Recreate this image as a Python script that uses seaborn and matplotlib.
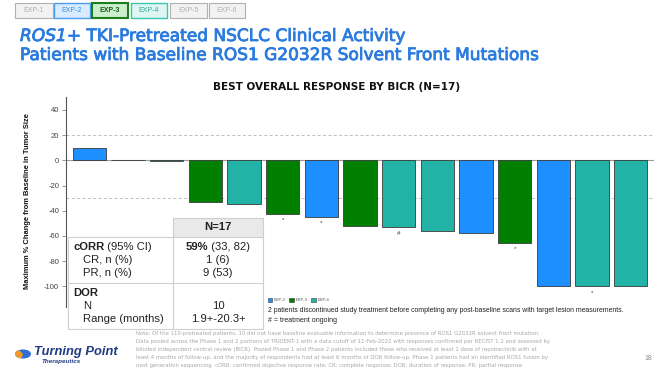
import matplotlib
matplotlib.use("Agg")
import matplotlib.pyplot as plt
import matplotlib.patches as mpatches
import matplotlib.patheffects as pe
import seaborn as sns
import pandas as pd

# ---------------- data ----------------
patients = [f"P{i}" for i in range(1, 16)]
values = [9.5, 0.5, -0.3, -33, -34.5, -42.5, -45, -52, -53, -56, -57.5, -65.5, -100, -100, -100]
cohorts = ["EXP-2", "EXP-2", "EXP-4", "EXP-3", "EXP-4", "EXP-3", "EXP-2", "EXP-3",
           "EXP-4", "EXP-4", "EXP-2", "EXP-3", "EXP-2", "EXP-4", "EXP-4"]
marks = ["", "", "", "", "", "*", "*", "", "#", "", "", "*", "", "*", ""]
cohort_levels = ["EXP-2", "EXP-3", "EXP-4"]
cohort_colors = {"EXP-2": "#1E8FFF", "EXP-3": "#007F00", "EXP-4": "#22B2A6"}
yticks = [40, 20, 0, -20, -40, -60, -80, -100]
ref_lines = [20, -30]

table_rows_left = ["cORR", "CR, n (%)", "PR, n (%)", "DOR", "N", "Range (months)"]
table_rows_right = ["59%", "1 (6)", "9 (53)", "", "10", "1.9+-20.3+"]

W, H = 660, 375
fig = plt.figure(figsize=(6.6, 3.75), dpi=100)
sns.set_style("white")
plt.rcParams["font.family"] = ["DejaVu Sans"]

def fx(x):
    return x / W

def fy(y):
    return 1 - y / H

renderer = fig.canvas.get_renderer()

def fit_text(x, y, s, width_px, base=10, rotation=0, **kw):
    t = fig.text(fx(x), fy(y), s, fontsize=base, **kw)
    w = t.get_window_extent(renderer).width
    t.set_fontsize(base * width_px / w)
    t.set_rotation(rotation)
    return t

def text_after(t, s, gap=0, **kw):
    bb = t.get_window_extent(renderer)
    x = bb.x1 + gap
    return fig.text(x / W, t.get_position()[1], s, **kw)

# ---------------- axes ----------------
ax = fig.add_axes([fx(66), fy(306.5), fx(654 - 66), (306.5 - 97.3) / H])
df = pd.DataFrame({"patient": patients, "value": values, "cohort": cohorts})
sns.barplot(data=df, x="patient", y="value", hue="cohort", order=patients,
            hue_order=cohort_levels, palette=cohort_colors, dodge=False, saturation=1,
            width=0.86, edgecolor="#3a3a3a", linewidth=0.6, legend=False, ax=ax, zorder=3)
ax.set_xlim(-0.6, 14.6)
ax.set_ylim(-116, 50)
for r in ref_lines:
    ax.axhline(r, color="#bdbdbd", lw=0.7, ls=(0, (3, 2.5)), zorder=1)
ax.axhline(0, color="#9a9a9a", lw=0.8, zorder=2)
ax.set_yticks(yticks)
ax.set_yticklabels([str(v) for v in yticks], color="#444444", fontsize=5.5,
                   family="Liberation Sans")
ax.tick_params(axis="y", length=3, width=0.6, color="#888888", pad=2, left=True)
ax.tick_params(axis="x", bottom=False, labelbottom=False)
ax.set_xlabel("")
ax.set_ylabel("")
for s in ["top", "right", "bottom"]:
    ax.spines[s].set_visible(False)
ax.spines["left"].set_color("#555555")
ax.spines["left"].set_linewidth(0.8)

for i, (v, m) in enumerate(zip(values, marks)):
    if m:
        ax.annotate(m, (i, v), xytext=(0, -2.5), textcoords="offset points",
                    ha="center", va="top", fontsize=4.5, color="#333333",
                    family="Liberation Sans")

# y label
fit_text(28, 201, "Maximum % Change from Baseline in Tumor Size", 178, base=6,
         rotation=90, ha="center", va="center", fontweight="bold",
         family="Liberation Sans", color="#111111")

# ---------------- header tabs ----------------
tabs = [("EXP-1", 15, 53, "#f2f2f2", "#b0b0b0", "#b0b0b0", 0.8, "normal"),
        ("EXP-2", 54, 90, "#d8ebff", "#4a9df0", "#3a8ee6", 1.0, "normal"),
        ("EXP-3", 92, 128, "#cdeecd", "#1b7f1b", "#155e15", 1.5, "bold"),
        ("EXP-4", 131, 167, "#ddf6f1", "#3cc4b2", "#2aa898", 1.0, "normal"),
        ("EXP-5", 170, 207, "#f2f2f2", "#b0b0b0", "#b0b0b0", 0.8, "normal"),
        ("EXP-6", 209, 245, "#f2f2f2", "#b0b0b0", "#b0b0b0", 0.8, "normal")]
for lab, x0, x1, fc, ec, tc, lw, fw in tabs:
    fig.patches.append(mpatches.Rectangle((fx(x0), fy(18)), fx(x1 - x0), 15 / H,
                                          transform=fig.transFigure, fc=fc, ec=ec, lw=lw))
    fig.text(fx((x0 + x1) / 2), fy(10.5), lab, ha="center", va="center",
             fontsize=5, color=tc, fontweight=fw, family="Liberation Sans")

# ---------------- titles ----------------
blue = "#2B7BDF"
thick = [pe.withStroke(linewidth=0.6, foreground=blue)]
t2 = fit_text(20, 55, "Patients with Baseline ROS1 G2032R Solvent Front Mutations", 520,
              base=14, va="center", color=blue, family="DejaVu Sans")
t2.set_path_effects(thick)
fs = t2.get_fontsize()
t1a = fig.text(fx(20), fy(36), "ROS1", fontsize=fs, va="center", color=blue,
               style="italic", family="DejaVu Sans", path_effects=thick)
text_after(t1a, "+ TKI-Pretreated NSCLC Clinical Activity", fontsize=fs, va="center",
           color=blue, family="DejaVu Sans", path_effects=thick)
fit_text(213, 87, "BEST OVERALL RESPONSE BY BICR (N=17)", 246, base=9, va="center",
         fontweight="bold", color="#111111", family="DejaVu Sans")

# ---------------- table ----------------
grid = "#cfcfcf"
tx0, tx1, txm = 68, 263, 173
ty0, ty_h, ty_mid, ty1 = 218, 237, 283, 329
fig.patches.append(mpatches.Rectangle((fx(tx0), fy(ty1)), fx(tx1 - tx0), (ty1 - ty0) / H,
                                      transform=fig.transFigure, fc="white", ec="none", zorder=5))
fig.patches.append(mpatches.Rectangle((fx(txm), fy(ty_h)), fx(tx1 - txm), (ty_h - ty0) / H,
                                      transform=fig.transFigure, fc="#e9e9e9", ec="none", zorder=5))
def hline(y, x0, x1):
    fig.lines.append(plt.Line2D([fx(x0), fx(x1)], [fy(y), fy(y)], transform=fig.transFigure,
                                color=grid, lw=0.8, zorder=6))
def vline(x, y0, y1):
    fig.lines.append(plt.Line2D([fx(x), fx(x)], [fy(y0), fy(y1)], transform=fig.transFigure,
                                color=grid, lw=0.8, zorder=6))
hline(ty0, txm, tx1)
hline(ty_h, tx0, tx1)
hline(ty_mid, tx0, tx1)
hline(ty1, tx0, tx1)
vline(tx0, ty_h, ty1)
vline(txm, ty0, ty1)
vline(tx1, ty0, ty1)

tfs = 8.1
tc = "#222222"
tkw = dict(fontsize=tfs, color=tc, family="Liberation Sans", va="center", zorder=7)
fig.text(fx(218), fy(227.5), "N=17", ha="center", fontweight="bold", **tkw)
a = fig.text(fx(73), fy(247), table_rows_left[0], fontweight="bold", **tkw)
text_after(a, " (95% CI)", **tkw)
fig.text(fx(83), fy(260), table_rows_left[1], **tkw)
fig.text(fx(83), fy(273), table_rows_left[2], **tkw)
fig.text(fx(73), fy(293), table_rows_left[3], fontweight="bold", **tkw)
fig.text(fx(83), fy(306), table_rows_left[4], **tkw)
fig.text(fx(83), fy(319), table_rows_left[5], **tkw)
# right column
b1 = fig.text(0, fy(247), table_rows_right[0], fontweight="bold", **tkw)
b2 = fig.text(0, fy(247), " (33, 82)", **tkw)
wtot = b1.get_window_extent(renderer).width + b2.get_window_extent(renderer).width
b1.set_x(fx(218 - wtot / 2))
b2.set_x(fx(218 - wtot / 2 + b1.get_window_extent(renderer).width))
fig.text(fx(218), fy(260), table_rows_right[1], ha="center", **tkw)
fig.text(fx(218), fy(273), table_rows_right[2], ha="center", **tkw)
fig.text(fx(218), fy(306), table_rows_right[4], ha="center", **tkw)
fig.text(fx(218), fy(319), table_rows_right[5], ha="center", **tkw)

# ---------------- legend ----------------
handles = [mpatches.Patch(fc=cohort_colors[c], ec="#3a3a3a", lw=0.4, label=c) for c in cohort_levels]
fig.legend(handles=handles, loc="center left", bbox_to_anchor=(fx(264), fy(300)), ncol=3,
           frameon=False, fontsize=3, handlelength=1.1, handleheight=1.1,
           handletextpad=0.4, columnspacing=0.8, labelcolor="#555555")

fit_text(268, 311, "2 patients discontinued study treatment before completing any post-baseline scans with target lesion measurements.",
         364, base=5, va="center", color="#222222", family="Liberation Sans")
fit_text(268, 321, "# = treatment ongoing", 70, base=5, va="center", color="#222222",
         family="Liberation Sans")

# ---------------- footnote ----------------
notes = [
    "Note: Of the 110-pretreated patients, 10 did not have baseline evaluable information to determine presence of ROS1 G2032R solvent front mutation.",
    "Data pooled across the Phase 1 and 2 portions of TRIDENT-1 with a data cutoff of 11-Feb-2022 with responses confirmed per RECIST 1.1 and assessed by",
    "blinded independent central review (BICR). Pooled Phase 1 and Phase 2 patients included those who received at least 1 dose of repotrectinib with at",
    "least 4 months of follow-up, and the majority of respondents had at least 6 months of DOR follow-up. Phase 1 patients had an identified ROS1 fusion by",
    "next generation sequencing. cORR: confirmed objective response rate; CR: complete response; DOR: duration of response; PR: partial response",
]
nt = fit_text(136, 334, notes[1], 415, base=4, va="center", color="#a8a8a8", family="DejaVu Sans")
nfs = nt.get_fontsize()
nt.set_text("")
for k, line in enumerate(notes):
    fig.text(fx(136), fy(334 + k * 8), line, fontsize=nfs, va="center", color="#a8a8a8",
             family="DejaVu Sans")

fig.text(fx(652), fy(358), "18", fontsize=5, color="#8a8a8a", ha="right", va="center",
         family="Liberation Sans")

# ---------------- logo ----------------
fig.patches.append(mpatches.Circle((fx(23), fy(354)), 8 / W, transform=fig.transFigure,
                                   fc="#2E6FD1", ec="none"))
fig.patches.append(mpatches.Wedge((fx(23), fy(354)), 8 / W, 120, 260, transform=fig.transFigure,
                                  fc="#F29B2B", ec="none"))
fit_text(34, 352, "Turning Point", 84, base=10, va="center", color="#1F3B84",
         fontweight="bold", style="italic", family="Liberation Sans")
fig.text(fx(42), fy(362), "Therapeutics", fontsize=4.5, va="center", color="#1F3B84",
         style="italic", fontweight="bold", family="Liberation Sans")

fig.savefig("out.png", dpi=100)
